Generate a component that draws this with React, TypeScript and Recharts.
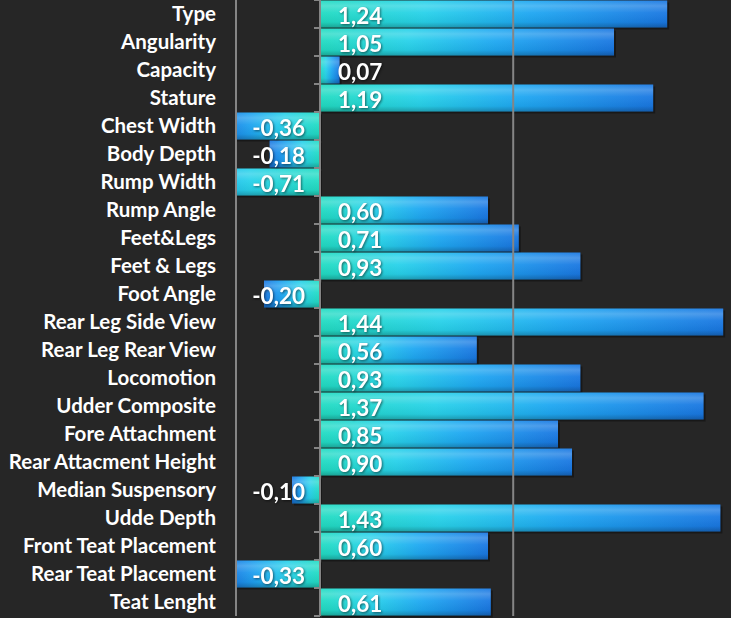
import React from "react";
import { BarChart, Bar, XAxis, YAxis, ReferenceLine, LabelList } from "recharts";

const CATEGORIES = [
  "Type",
  "Angularity",
  "Capacity",
  "Stature",
  "Chest Width",
  "Body Depth",
  "Rump Width",
  "Rump Angle",
  "Feet&Legs",
  "Feet & Legs",
  "Foot Angle",
  "Rear Leg Side View",
  "Rear Leg Rear View",
  "Locomotion",
  "Udder Composite",
  "Fore Attachment",
  "Rear Attacment Height",
  "Median Suspensory",
  "Udde Depth",
  "Front Teat Placement",
  "Rear Teat Placement",
  "Teat Lenght",
];

const VALUES = [
  1.24, 1.05, 0.07, 1.19, -0.36, -0.18, -0.71, 0.6, 0.71, 0.93, -0.2, 1.44, 0.56,
  0.93, 1.37, 0.85, 0.9, -0.1, 1.43, 0.6, -0.33, 0.61,
];

const X_DOMAIN = [-0.3, 1.5];
const GRID_VALUES = [-0.3, 0.69];

const data = CATEGORIES.map((name, i) => ({ name, value: VALUES[i] }));

const BG = "#262626";
const GRID = "#858585";
const FONT = "Lato, 'Open Sans', sans-serif";

function BarShape(props: any) {
  const { x, y, width, height, payload } = props;
  const left = Math.min(x, x + width);
  const w = Math.abs(width);
  const neg = payload && payload.value < 0;
  if (!w || !height) return null;
  return (
    <g>
      <rect x={left + 2} y={y + 2} width={w} height={height} fill="#000" opacity={0.35} />
      <rect x={left} y={y} width={w} height={height} fill={neg ? "url(#gradNeg)" : "url(#gradPos)"} />
      <rect x={left} y={y} width={w} height={height} fill="url(#gradShine)" />
    </g>
  );
}

function ValueLabel(props: any) {
  const { x, y, width, height, value } = props;
  if (x == null || value == null) return null;
  const zeroX = value >= 0 ? Math.min(x, x + width) : Math.max(x, x + width);
  const tx = value >= 0 ? zeroX + 18 : zeroX - 15;
  const text = Number(value).toFixed(2).replace(".", ",");
  return (
    <text
      x={tx}
      y={y + height / 2 + 10}
      textAnchor={value >= 0 ? "start" : "end"}
      fill="#ffffff"
      fontFamily={FONT}
      fontWeight={700}
      fontSize={22.5}
      style={{ filter: "drop-shadow(1px 1px 1px rgba(0,0,0,0.5))" }}
    >
      {text}
    </text>
  );
}

function ZeroAxis(props: any) {
  const { x1, y1, x2, y2 } = props;
  if (x1 == null) return null;
  const top = Math.min(y1, y2);
  const bottom = Math.max(y1, y2);
  const n = CATEGORIES.length;
  const step = (bottom - top) / n;
  const ticks = [];
  for (let i = 0; i <= n; i++) {
    const ty = top + i * step;
    ticks.push(<line key={i} x1={x1 - 6} y1={ty} x2={x1} y2={ty} stroke={GRID} strokeWidth={2} />);
  }
  return (
    <g>
      <line x1={x1} y1={y1} x2={x2} y2={y2} stroke={GRID} strokeWidth={2} />
      {ticks}
    </g>
  );
}

export default function App() {
  return (
    <div
      style={{
        position: "absolute",
        left: 0,
        top: 0,
        width: 731,
        height: 618,
        overflow: "hidden",
        background: BG,
      }}
    >
      <BarChart
        width={740}
        height={618}
        data={data}
        layout="vertical"
        margin={{ top: 0, right: 0, bottom: 2, left: 0 }}
        barCategoryGap={0.5}
      >
        <defs>
          <linearGradient id="gradPos" x1="0" y1="0" x2="1" y2="0">
            <stop offset="0%" stopColor="#22dcc2" />
            <stop offset="30%" stopColor="#28d2ea" />
            <stop offset="60%" stopColor="#1fa8f2" />
            <stop offset="100%" stopColor="#1a78e2" />
          </linearGradient>
          <linearGradient id="gradNeg" x1="1" y1="0" x2="0" y2="0">
            <stop offset="0%" stopColor="#22dcc2" />
            <stop offset="35%" stopColor="#28d2ea" />
            <stop offset="70%" stopColor="#1fa2f0" />
            <stop offset="100%" stopColor="#1a78e2" />
          </linearGradient>
          <linearGradient id="gradShine" x1="0" y1="0" x2="0" y2="1">
            <stop offset="0%" stopColor="#ffffff" stopOpacity={0.05} />
            <stop offset="20%" stopColor="#ffffff" stopOpacity={0.22} />
            <stop offset="45%" stopColor="#ffffff" stopOpacity={0.05} />
            <stop offset="80%" stopColor="#000000" stopOpacity={0.05} />
            <stop offset="100%" stopColor="#000000" stopOpacity={0.25} />
          </linearGradient>
        </defs>
        <XAxis type="number" domain={X_DOMAIN} allowDataOverflow hide />
        <YAxis
          type="category"
          dataKey="name"
          width={236}
          axisLine={false}
          tickLine={false}
          tickSize={0}
          tickMargin={20}
          interval={0}
          tick={{ fill: "#ffffff", fontSize: 20.5, fontWeight: 700, fontFamily: FONT }}
        />
        {GRID_VALUES.map((v) => (
          <ReferenceLine key={v} x={v} stroke={GRID} strokeWidth={2} />
        ))}
        <Bar dataKey="value" isAnimationActive={false} shape={BarShape}>
          <LabelList dataKey="value" content={ValueLabel} />
        </Bar>
        <ReferenceLine x={0} stroke={GRID} strokeWidth={2} shape={ZeroAxis} />
      </BarChart>
    </div>
  );
}
